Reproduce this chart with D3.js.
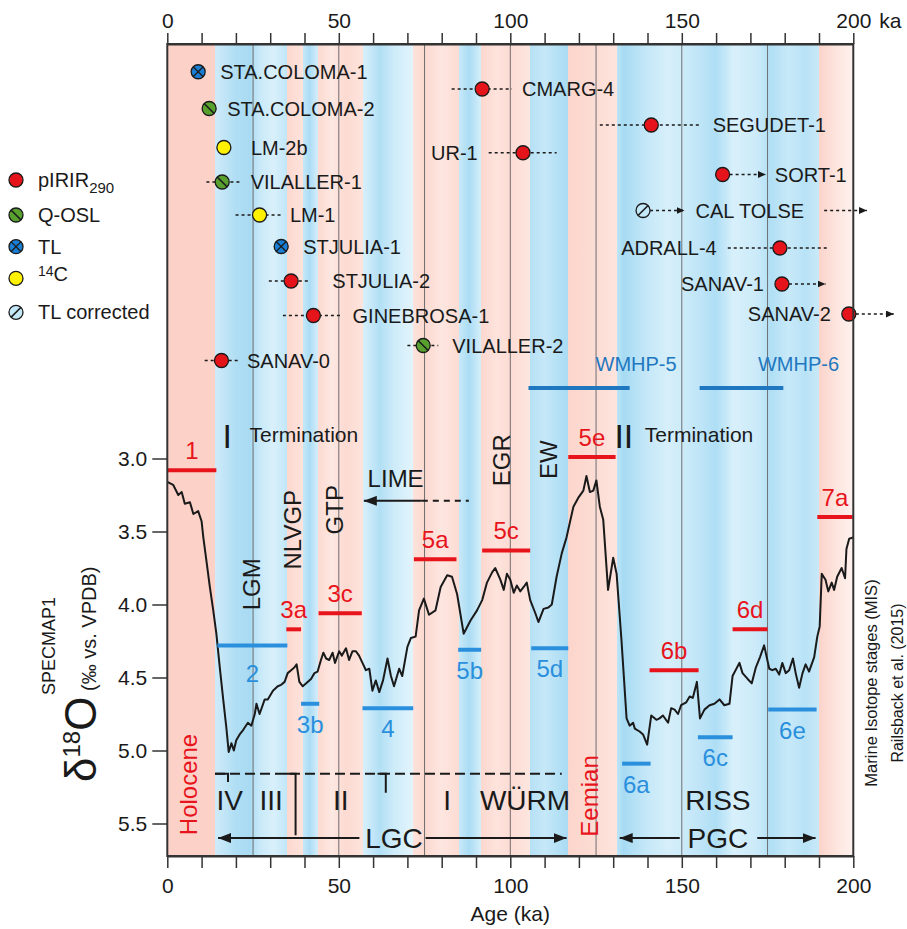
<!DOCTYPE html>
<html>
<head>
<meta charset="utf-8">
<script src="https://cdn.jsdelivr.net/npm/d3@7"></script>
<style>
body { margin: 0; background: #fff; }
svg { font-family: "Liberation Sans", Arial, Helvetica, sans-serif; }
</style>
</head>
<body>
<svg id="chart" width="907" height="929"></svg>
<script>
// SPECMAP1 d18O curve (age in ka, d18O in permil)
var specAge = [0, 1.7, 3.2, 4.2, 5.1, 6.6, 7.6, 9.0, 10.0, 10.5, 11.4, 12.4, 13.4, 14.3, 15.3, 16.3, 17.2, 17.9, 18.7, 19.4,
  20.1, 21.1, 22.1, 23.5, 24.5, 25.5, 26.0, 26.9, 28.4, 29.3, 30.8, 32.2, 33.2, 34.2, 35.1, 36.1, 37.1, 37.7, 38.5, 39.5,
  40.5, 41.9, 42.9, 43.8, 44.8, 45.5, 46.3, 47.2, 48.2, 48.9, 50.1, 50.9, 52.1, 53.0, 54.0, 55.0, 55.9, 56.9, 57.9, 58.9,
  59.8, 60.8, 61.8, 62.9, 64.2, 65.2, 66.1, 67.6, 68.5, 70.0, 71.0, 72.4, 73.4, 74.8, 76.3, 78.2, 79.7, 81.6, 83.0, 84.5,
  86.4, 88.4, 90.3, 91.8, 93.2, 94.7, 95.6, 97.1, 98.1, 99.0, 100.0, 101.0, 101.9, 102.9, 103.9, 104.8, 105.8, 107.3, 108.2, 109.7,
  111.1, 112.1, 113.5, 115.0, 116.4, 118.4, 119.8, 121.3, 122.2, 123.2, 124.2, 125.1, 126.1, 127.1, 128.5, 130.0, 131.0, 132.4, 133.9, 134.8,
  135.8, 136.3, 137.7, 138.7, 139.9, 141.1, 142.6, 143.5, 144.5, 146.0, 146.9, 147.9, 148.9, 149.8, 151.3, 152.3, 153.2, 154.4, 155.3, 156.6,
  158.1, 159.5, 161.0, 162.4, 163.9, 164.8, 166.8, 167.7, 169.2, 170.4, 171.6, 172.8, 174.0, 175.5, 176.4, 177.4, 178.4, 179.3, 180.3, 181.3,
  182.4, 183.2, 184.2, 185.2, 186.1, 187.1, 188.6, 189.5, 190.2, 190.8, 191.9, 192.7, 193.7, 194.4, 195.3, 196.6, 197.6, 198.0, 198.8, 200.0];
var specD18O = [3.16, 3.18, 3.25, 3.23, 3.31, 3.30, 3.38, 3.36, 3.43, 3.54, 3.70, 3.88, 4.04, 4.20, 4.43, 4.65, 4.84, 5.01, 4.95, 5.00,
  4.93, 4.89, 4.86, 4.81, 4.83, 4.75, 4.68, 4.75, 4.65, 4.65, 4.59, 4.56, 4.55, 4.53, 4.47, 4.45, 4.43, 4.41, 4.53, 4.56,
  4.54, 4.51, 4.47, 4.46, 4.38, 4.33, 4.37, 4.38, 4.33, 4.40, 4.32, 4.35, 4.30, 4.38, 4.32, 4.32, 4.35, 4.40, 4.45, 4.44,
  4.59, 4.52, 4.60, 4.52, 4.37, 4.49, 4.56, 4.44, 4.49, 4.29, 4.23, 4.22, 4.04, 3.96, 4.07, 4.04, 3.88, 3.80, 3.81, 3.93,
  4.20, 4.11, 4.04, 3.97, 3.85, 3.78, 3.75, 3.83, 3.90, 3.79, 3.83, 3.92, 3.87, 3.91, 3.88, 3.85, 3.97, 4.06, 4.12, 4.03,
  4.02, 4.00, 3.81, 3.65, 3.54, 3.33, 3.27, 3.22, 3.12, 3.23, 3.22, 3.15, 3.33, 3.42, 3.90, 3.68, 3.79, 4.24, 4.78, 4.83,
  4.81, 4.85, 4.87, 4.89, 4.96, 4.76, 4.79, 4.78, 4.76, 4.81, 4.71, 4.72, 4.75, 4.69, 4.67, 4.63, 4.64, 4.53, 4.78, 4.72,
  4.69, 4.68, 4.65, 4.69, 4.68, 4.49, 4.40, 4.47, 4.51, 4.54, 4.43, 4.36, 4.28, 4.44, 4.45, 4.44, 4.48, 4.40, 4.47, 4.45,
  4.37, 4.47, 4.57, 4.47, 4.41, 4.46, 4.36, 4.22, 4.15, 3.79, 3.83, 3.91, 3.85, 3.90, 3.81, 3.75, 3.82, 3.62, 3.55, 3.54];

// Marine isotope (sub)stages after Railsback et al. (2015)
var misStages = [
  {label: "1",  from: 0,     to: 14.3,  d: 3.08, warm: true},
  {label: "2",  from: 14.6,  to: 35.0,  d: 4.28, warm: false},
  {label: "3a", from: 34.7,  to: 39.0,  d: 4.17, warm: true},
  {label: "3b", from: 39.0,  to: 44.3,  d: 4.68, warm: false},
  {label: "3c", from: 44.1,  to: 56.7,  d: 4.06, warm: true},
  {label: "4",  from: 56.9,  to: 71.7,  d: 4.71, warm: false},
  {label: "5a", from: 71.9,  to: 84.3,  d: 3.69, warm: true},
  {label: "5b", from: 84.8,  to: 91.5,  d: 4.31, warm: false},
  {label: "5c", from: 91.8,  to: 105.8, d: 3.63, warm: true},
  {label: "5d", from: 106.1, to: 116.9, d: 4.30, warm: false},
  {label: "5e", from: 116.9, to: 130.7, d: 2.99, warm: true},
  {label: "6a", from: 132.6, to: 140.9, d: 5.09, warm: false},
  {label: "6b", from: 140.6, to: 154.9, d: 4.45, warm: true},
  {label: "6c", from: 154.7, to: 164.8, d: 4.91, warm: false},
  {label: "6d", from: 164.8, to: 175.0, d: 4.17, warm: true},
  {label: "6e", from: 175.2, to: 189.3, d: 4.72, warm: false},
  {label: "7a", from: 189.5, to: 199.8, d: 3.40, warm: true}
];

// Dated samples: age (ka), error range or minimum-age arrow, and their row in the upper panel
var samples = [
  {name: "STA.COLOMA-1", type: "tl",    age: 9.0,   row: 0.65},
  {name: "CMARG-4",      type: "pirir", age: 91.8,  row: 1.8,  lo: 82.9,  hi: 100.5},
  {name: "STA.COLOMA-2", type: "qosl",  age: 12.2,  row: 3.1},
  {name: "SEGUDET-1",    type: "pirir", age: 141.1, row: 4.2,  lo: 126.1, hi: 155.2},
  {name: "LM-2b",        type: "c14",   age: 16.5,  row: 5.7},
  {name: "UR-1",         type: "pirir", age: 103.7, row: 6.05, lo: 93.7,  hi: 113.5, left: true},
  {name: "SORT-1",       type: "pirir", age: 161.9, row: 7.5,  min: 174.5},
  {name: "VILALLER-1",   type: "qosl",  age: 16.0,  row: 8.0,  lo: 11.4,  hi: 21.1},
  {name: "CAL TOLSE",    type: "tlc",   age: 138.7, row: 9.9,  min: 150.8, beyond: [191.5, 204]},
  {name: "LM-1",         type: "c14",   age: 26.9,  row: 10.2, lo: 19.9,  hi: 33.7},
  {name: "STJULIA-1",    type: "tl",    age: 33.2,  row: 12.3},
  {name: "ADRALL-4",     type: "pirir", age: 178.6, row: 12.4, lo: 163.4, hi: 192.9, left: true},
  {name: "STJULIA-2",    type: "pirir", age: 36.1,  row: 14.6, lo: 29.6,  hi: 41.4},
  {name: "SANAV-1",      type: "pirir", age: 179.2, row: 14.8, min: 191.9, left: true},
  {name: "SANAV-2",      type: "pirir", age: 198.7, row: 16.8, min: 211.8, left: true},
  {name: "GINEBROSA-1",  type: "pirir", age: 42.6,  row: 16.9, lo: 33.7,  hi: 51.1},
  {name: "VILALLER-2",   type: "qosl",  age: 74.6,  row: 18.9, lo: 70.0,  hi: 79.0},
  {name: "SANAV-0",      type: "pirir", age: 15.8,  row: 19.9, lo: 10.9,  hi: 20.6}
];

var legendTypes = [
  {type: "pirir", label: "pIRIR", sub: "290"},
  {type: "qosl",  label: "Q-OSL"},
  {type: "tl",    label: "TL"},
  {type: "c14",   label: "C", sup: "14"},
  {type: "tlc",   label: "TL corrected"}
];

var wmhp = [
  {label: "WMHP-5", from: 105.3, to: 134.8},
  {label: "WMHP-6", from: 155.2, to: 179.6}
];

var periods = [
  {label: "LGM",   age: 24.5,  d: 4.04},
  {label: "NLVGP", age: 36.6,  d: 3.76},
  {label: "GTP",   age: 48.7,  d: 3.52},
  {label: "EGR",   age: 97.6,  d: 3.19},
  {label: "EW",    age: 111.1, d: 3.14}
];
var epochs = [
  {label: "Holocene", age: 6.1,   d: 5.58},
  {label: "Eemian",   age: 123.0, d: 5.59}
];
var terminations = [
  {numeral: "I",  age: 17.5,  textAge: 24.0},
  {numeral: "II", age: 133.1, textAge: 139.2}
];
var lime = {tip: 57.3, solidTo: 74.2, dashTo: 87.9, d: 3.29, textAge: 58.4};

var stadials = [
  {label: "IV", age: 18.2}, {label: "III", age: 30.3}, {label: "II", age: 50.6},
  {label: "I", age: 81.6}, {label: "WÜRM", age: 104.3}, {label: "RISS", age: 160.5}
];
var wurmSpan = [13.9, 115.0];
var wurmDividers = [
  {from: 13.9, at: 17.7, to: 5.215},
  {from: 34.2, at: 37.4, to: 5.58},
  {from: 61.3, at: 63.7, to: 5.29}
];
var cycles = [
  {label: "LGC", age: 66.1,  left: [14.8, 56.0],   right: [75.3, 116.4]},
  {label: "PGC", age: 160.5, left: [131.9, 149.4], right: [172.0, 189.0]}
];

var ageTicks = d3.range(0, 201, 10);
var ageLabels = [0, 50, 100, 150, 200];
var gridAges = d3.range(25, 200, 25);
var d18OTicks = [3.0, 3.5, 4.0, 4.5, 5.0, 5.5];

// background shading (warm = pink, cold = blue), colour stops along the age axis
var bgStops = [
  [0, "#fbd1c8"], [14, "#fbd1c8"], [14, "#cfebf9"], [20, "#b0def4"], [24, "#a8dbf3"], [27, "#c8e9f8"], [31, "#d9f0fb"], [35, "#c0e6f7"],
  [35, "#fcd8cf"], [39.5, "#fde3dc"], [39.5, "#c6e8f8"], [41.5, "#acdcf4"], [44, "#d6eefa"],
  [44, "#fcdad1"], [48, "#fde8e2"], [52, "#fcdad1"], [57, "#fde4dd"],
  [57, "#d8f0fb"], [62, "#b2dff5"], [66, "#cdebf9"], [71.5, "#e2f4fc"],
  [71.5, "#fde3dc"], [75, "#fcd9d0"], [80, "#fde6e0"], [85, "#fcdcd3"],
  [85, "#c8e9f8"], [88, "#aadcf4"], [91.5, "#d6effa"],
  [91.5, "#fcd8cf"], [96, "#fde3dc"], [100, "#fddcd4"], [105.8, "#fde6df"],
  [105.8, "#b6e0f5"], [110, "#c6e8f8"], [116.8, "#a8dbf3"],
  [116.8, "#fcd5cc"], [124, "#fcdcd3"], [131, "#fde4dd"],
  [131, "#bfe5f7"], [133, "#a6dbf3"], [140, "#c6e8f8"], [146, "#d6effa"], [150, "#cdebf9"], [156, "#bde4f7"], [160, "#aedef5"],
  [165, "#d8f0fb"], [172, "#cbeaf9"], [176, "#b0dff5"], [181, "#c8e9f8"], [186, "#b8e2f6"], [190, "#c9e9f8"],
  [190, "#fbd3ca"], [195, "#fde5de"], [200, "#fef2ee"]
];

// ---- styles / layout
var red = "#e8141c", blue = "#2a8fdc", wmhpBlue = "#1f78bf", ink = "#1a1a1a";
var fills = {pirir: "#e5141b", qosl: "#58a12f", tl: "#1a7fd4", c14: "#fff200", tlc: "#c3e8f8"};
var R = 7;
var labelGap = {"STA.COLOMA-1": 15, "LM-2b": 20, "STJULIA-1": 15, "STJULIA-2": 23, "LM-1": 7, "VILALLER-2": 14, "SEGUDET-1": 13, "SORT-1": 9, "GINEBROSA-1": 10, "CMARG-4": 10, "SANAV-0": 9};

var plotTop = 44, plotBottom = 856;
var x = d3.scaleLinear().domain([0, 200]).range([167.3, 853.3]);
var y = d3.scaleLinear().domain([3, 5.5]).range([458.5, 823.5]);
var rowY = d3.scaleLinear().domain([0, 20]).range([62, 362]);

var svg = d3.select("#chart");
var defs = svg.append("defs");

var grad = defs.append("linearGradient").attr("id", "bg")
  .attr("gradientUnits", "userSpaceOnUse")
  .attr("x1", x(0)).attr("x2", x(200)).attr("y1", 0).attr("y2", 0);
grad.selectAll("stop").data(bgStops).enter().append("stop")
  .attr("offset", function(s) { return s[0] / 200; })
  .attr("stop-color", function(s) { return s[1]; });

function arrowMarker(id, len, half) {
  defs.append("marker").attr("id", id)
    .attr("markerUnits", "userSpaceOnUse")
    .attr("viewBox", "0 0 " + len + " " + (2 * half))
    .attr("markerWidth", len).attr("markerHeight", 2 * half)
    .attr("refX", len).attr("refY", half)
    .attr("orient", "auto-start-reverse")
    .append("path").attr("d", "M0,0L" + len + "," + half + "L0," + (2 * half) + "Z").attr("fill", ink);
}
arrowMarker("tipS", 8, 3.5);
arrowMarker("tipL", 13, 5);

// background bands
svg.append("rect").attr("x", x(0)).attr("y", plotTop).attr("width", x(200) - x(0)).attr("height", plotBottom - plotTop)
  .attr("fill", "url(#bg)");

// vertical grid
svg.append("g").selectAll("line").data(gridAges).enter().append("line")
  .attr("x1", x).attr("x2", x).attr("y1", plotTop).attr("y2", plotBottom)
  .attr("stroke", "#6e6e6e").attr("stroke-width", 1);

// curve
var line = d3.line().x(function(d) { return x(d[0]); }).y(function(d) { return y(d[1]); });
svg.append("path").datum(d3.zip(specAge, specD18O))
  .attr("d", line).attr("fill", "none").attr("stroke", ink).attr("stroke-width", 2).attr("stroke-linejoin", "round");

// MIS bars + labels
var mis = svg.append("g");
mis.selectAll("line").data(misStages).enter().append("line")
  .attr("x1", function(d) { return x(d.from); }).attr("x2", function(d) { return x(d.to); })
  .attr("y1", function(d) { return y(d.d); }).attr("y2", function(d) { return y(d.d); })
  .attr("stroke", function(d) { return d.warm ? red : blue; }).attr("stroke-width", 4);
mis.selectAll("text").data(misStages).enter().append("text")
  .attr("x", function(d) { return x((d.from + d.to) / 2); })
  .attr("y", function(d) { return y(d.d) + (d.warm ? -11 : (d.label === "2" ? 37 : 29)); })
  .attr("text-anchor", "middle").attr("font-size", 24)
  .attr("fill", function(d) { return d.warm ? red : blue; })
  .text(function(d) { return d.label; });

// WMHP bars
var wm = svg.append("g");
wm.selectAll("line").data(wmhp).enter().append("line")
  .attr("x1", function(d) { return x(d.from); }).attr("x2", function(d) { return x(d.to); })
  .attr("y1", 388).attr("y2", 388).attr("stroke", wmhpBlue).attr("stroke-width", 4);
wm.selectAll("text").data(wmhp).enter().append("text")
  .attr("x", function(d) { return x((d.from + d.to) / 2) + 57; }).attr("y", 371)
  .attr("text-anchor", "middle").attr("font-size", 20).attr("fill", wmhpBlue)
  .text(function(d) { return d.label; });

// rotated period labels
function vtext(sel, data, color) {
  sel.selectAll("text").data(data).enter().append("text")
    .attr("transform", function(d) { return "translate(" + x(d.age) + "," + y(d.d) + ") rotate(-90)"; })
    .attr("dy", "0.35em").attr("font-size", 24).attr("fill", color)
    .text(function(d) { return d.label; });
}
vtext(svg.append("g"), periods, ink);
vtext(svg.append("g"), epochs, red);

// terminations
var term = svg.append("g").selectAll("g").data(terminations).enter().append("g");
term.append("text").attr("x", function(d) { return x(d.age); }).attr("y", y(2.93))
  .attr("text-anchor", "middle").attr("font-size", 34).attr("fill", ink).text(function(d) { return d.numeral; });
term.append("text").attr("x", function(d) { return x(d.textAge); }).attr("y", y(2.885))
  .attr("font-size", 21).attr("fill", ink).text("Termination");

// LIME
svg.append("text").attr("x", x(lime.textAge)).attr("y", y(3.195)).attr("font-size", 24).attr("fill", ink).text("LIME");
svg.append("line").attr("x1", x(lime.solidTo)).attr("x2", x(lime.tip)).attr("y1", y(lime.d)).attr("y2", y(lime.d))
  .attr("stroke", ink).attr("stroke-width", 2).attr("marker-end", "url(#tipL)");
svg.append("line").attr("x1", x(lime.solidTo)).attr("x2", x(lime.dashTo)).attr("y1", y(lime.d)).attr("y2", y(lime.d))
  .attr("stroke", ink).attr("stroke-width", 2).attr("stroke-dasharray", "6,5");

// Wurm subdivision
svg.append("line").attr("x1", x(wurmSpan[0])).attr("x2", x(wurmSpan[1])).attr("y1", y(5.16)).attr("y2", y(5.16))
  .attr("stroke", ink).attr("stroke-width", 2).attr("stroke-dasharray", "10,5");
svg.append("g").selectAll("path").data(wurmDividers).enter().append("path")
  .attr("d", function(d) { return "M" + x(d.from) + "," + y(5.16) + "H" + x(d.at) + "V" + y(d.to); })
  .attr("fill", "none").attr("stroke", ink).attr("stroke-width", 2);
svg.append("g").selectAll("text").data(stadials).enter().append("text")
  .attr("x", function(d) { return x(d.age); }).attr("y", y(5.41))
  .attr("text-anchor", "middle").attr("font-size", 28).attr("fill", ink).text(function(d) { return d.label; });

// glacial cycles
var cyc = svg.append("g").selectAll("g").data(cycles).enter().append("g");
cyc.append("text").attr("x", function(d) { return x(d.age); }).attr("y", y(5.67))
  .attr("text-anchor", "middle").attr("font-size", 28).attr("fill", ink).text(function(d) { return d.label; });
cyc.append("line").attr("x1", function(d) { return x(d.left[1]); }).attr("x2", function(d) { return x(d.left[0]); })
  .attr("y1", y(5.6)).attr("y2", y(5.6)).attr("stroke", ink).attr("stroke-width", 2).attr("marker-end", "url(#tipL)");
cyc.append("line").attr("x1", function(d) { return x(d.right[0]); }).attr("x2", function(d) { return x(d.right[1]); })
  .attr("y1", y(5.6)).attr("y2", y(5.6)).attr("stroke", ink).attr("stroke-width", 2).attr("marker-end", "url(#tipL)");

// sample symbols
function symbol(g, type) {
  g.append("circle").attr("r", R).attr("fill", fills[type]).attr("stroke", ink).attr("stroke-width", 1.3);
  var k = R * 0.72;
  if (type === "qosl") g.append("line").attr("x1", -k).attr("y1", -k).attr("x2", k).attr("y2", k).attr("stroke", ink).attr("stroke-width", 1.6);
  if (type === "tlc") g.append("line").attr("x1", -k).attr("y1", k).attr("x2", k).attr("y2", -k).attr("stroke", ink).attr("stroke-width", 1.6);
  if (type === "tl") {
    g.append("line").attr("x1", -k).attr("y1", -k).attr("x2", k).attr("y2", k).attr("stroke", ink).attr("stroke-width", 1.2);
    g.append("line").attr("x1", -k).attr("y1", k).attr("x2", k).attr("y2", -k).attr("stroke", ink).attr("stroke-width", 1.2);
  }
}

var dots = svg.append("g").selectAll("g").data(samples).enter().append("g");
dots.each(function(d) {
  var g = d3.select(this), cy = rowY(d.row), cx = x(d.age);
  if (d.lo !== undefined) {
    g.append("line").attr("x1", x(d.lo)).attr("x2", x(d.hi)).attr("y1", cy).attr("y2", cy)
      .attr("stroke", ink).attr("stroke-width", 1.3).attr("stroke-dasharray", "3,3");
  }
  if (d.min !== undefined) {
    g.append("line").attr("x1", cx + R).attr("x2", x(d.min)).attr("y1", cy).attr("y2", cy)
      .attr("stroke", ink).attr("stroke-width", 1.3).attr("stroke-dasharray", "3,3").attr("marker-end", "url(#tipS)");
  }
  if (d.beyond) {
    g.append("line").attr("x1", x(d.beyond[0])).attr("x2", x(d.beyond[1])).attr("y1", cy).attr("y2", cy)
      .attr("stroke", ink).attr("stroke-width", 1.3).attr("stroke-dasharray", "3,3").attr("marker-end", "url(#tipS)");
  }
  symbol(g.append("g").attr("transform", "translate(" + cx + "," + cy + ")"), d.type);

  var gap = labelGap[d.name] !== undefined ? labelGap[d.name] : 11;
  var lx;
  if (d.left) {
    lx = Math.min(cx - R, d.lo !== undefined ? x(d.lo) : cx - R) - gap;
  } else {
    lx = Math.max(cx + R, d.hi !== undefined ? x(d.hi) : 0, d.min !== undefined ? x(d.min) : 0) + gap;
  }
  g.append("text").attr("x", lx).attr("y", cy).attr("dy", "0.35em")
    .attr("text-anchor", d.left ? "end" : "start").attr("font-size", 20).attr("fill", ink).text(d.name);
});

// legend
var leg = svg.append("g").selectAll("g").data(legendTypes).enter().append("g")
  .attr("transform", function(d, i) { return "translate(16," + [180, 215, 246.7, 278.3, 312.3][i] + ")"; });
leg.each(function(d) { symbol(d3.select(this), d.type); });
var lt = leg.append("text").attr("x", 22).attr("dy", "0.35em").attr("font-size", 20).attr("fill", ink);
lt.each(function(d) {
  var t = d3.select(this);
  if (d.sup) t.append("tspan").attr("font-size", 14).attr("dy", "-0.2em").text(d.sup);
  t.append("tspan").attr("dy", d.sup ? "0.25em" : null).text(d.label);
  if (d.sub) t.append("tspan").attr("font-size", 15).attr("dy", "0.4em").text(d.sub);
});

// axes
function styleAxis(g) {
  g.selectAll("text").attr("font-size", 21).attr("font-family", "Liberation Sans, Arial, sans-serif").attr("fill", ink);
  g.selectAll(".tick line").attr("stroke", "#333").attr("stroke-width", 1.5);
  g.select(".domain").attr("stroke", "#333").attr("stroke-width", 2);
}
var fmtAge = function(d) { return ageLabels.indexOf(d) >= 0 ? d : ""; };
svg.append("g").attr("transform", "translate(0," + plotTop + ")")
  .call(d3.axisTop(x).tickValues(ageTicks).tickFormat(fmtAge).tickSize(11).tickSizeOuter(0).tickPadding(5))
  .call(styleAxis);
svg.append("g").attr("transform", "translate(0," + plotBottom + ")")
  .call(d3.axisBottom(x).tickValues(ageTicks).tickFormat(fmtAge).tickSize(12).tickSizeOuter(0).tickPadding(10))
  .call(styleAxis);
svg.append("g").attr("transform", "translate(" + x(0) + ",0)")
  .call(d3.axisLeft(y).tickValues(d18OTicks).tickFormat(d3.format(".1f")).tickSize(15).tickPadding(5))
  .call(styleAxis)
  .call(function(g) { g.select(".domain").remove(); });

// frame
svg.append("rect").attr("x", x(0)).attr("y", plotTop).attr("width", x(200) - x(0)).attr("height", plotBottom - plotTop)
  .attr("fill", "none").attr("stroke", "#333").attr("stroke-width", 2);

// axis titles
svg.append("text").attr("x", x(200) + 26).attr("y", 28).attr("font-size", 21).attr("fill", ink).text("ka");
svg.append("text").attr("x", (x(0) + x(200)) / 2).attr("y", 921).attr("text-anchor", "middle")
  .attr("font-size", 21).attr("fill", ink).text("Age (ka)");
svg.append("text").attr("transform", "translate(55,646) rotate(-90)").attr("text-anchor", "middle")
  .attr("font-size", 18).attr("fill", ink).text("SPECMAP1");
var yt = svg.append("text").attr("transform", "translate(96,782) rotate(-90)").attr("fill", ink);
yt.append("tspan").attr("font-size", 44).text("δ");
yt.append("tspan").attr("font-size", 24).attr("dy", -16).text("18");
yt.append("tspan").attr("font-size", 44).attr("dy", 16).text("O");
yt.append("tspan").attr("font-size", 20).text(" (‰ vs. VPDB)");
svg.append("text").attr("transform", "translate(877,683) rotate(-90)").attr("text-anchor", "middle")
  .attr("font-size", 16.5).attr("fill", ink).text("Marine Isotope stages (MIS)");
svg.append("text").attr("transform", "translate(903,683) rotate(-90)").attr("text-anchor", "middle")
  .attr("font-size", 16).attr("fill", ink).text("Railsback et al. (2015)");
</script>
</body>
</html>
